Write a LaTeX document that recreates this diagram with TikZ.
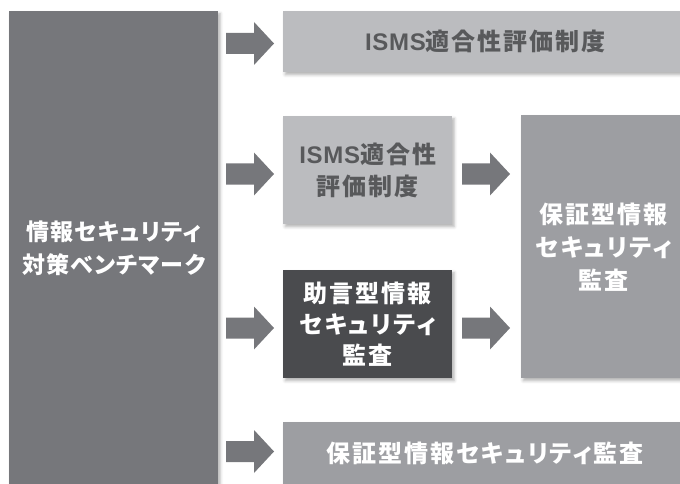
\documentclass[tikz,border=0pt]{standalone}
\usepackage{fontspec}
\newfontfamily\jp[LetterSpace=8, RawFeature=+palt]{Noto Sans CJK JP}
\newfontfamily\jpl[LetterSpace=5, RawFeature=+palt]{Noto Sans CJK JP}
\newfontfamily\lat[LetterSpace=3]{Liberation Sans}
\newcommand{\isms}{{\lat\bfseries ISMS}}
\usetikzlibrary{shadows.blur}
\definecolor{leftc}{HTML}{76777B}
\definecolor{lightc}{HTML}{BBBCBF}
\definecolor{midc}{HTML}{9D9EA2}
\definecolor{darkc}{HTML}{4A4B4E}
\definecolor{arrowc}{HTML}{76777B}
\definecolor{txtc}{HTML}{58595B}
\tikzset{
  box/.style={anchor=north west, inner sep=0pt, align=center,
    font=\jp\bfseries\fontsize{24}{32}\selectfont,
    blur shadow={shadow xshift=2pt, shadow yshift=-2.5pt, shadow blur radius=3pt, shadow opacity=30}},
  lightbox/.style={box, fill=lightc, text=txtc},
  midbox/.style={box, fill=midc, text=white},
  darkbox/.style={box, fill=darkc, text=white},
  leftbox/.style={box, fill=leftc, text=white, font=\jpl\bfseries\fontsize{23}{33}\selectfont},
  barrow/.pic={\fill[arrowc] (-24,-10.5) -- (4,-10.5) -- (4,-21.5) -- (24,0) -- (4,21.5) -- (4,10.5) -- (-24,10.5) -- cycle;}
}
\begin{document}
\begin{tikzpicture}[x=1pt,y=-1pt]
\useasboundingbox (0,0) rectangle (680,484);
\node[leftbox, minimum width=209pt, minimum height=474pt] (bench) at (9,11) {情報セキュリティ\\対策ベンチマーク};
\node[lightbox, minimum width=404pt, minimum height=61pt] (isms1) at (283,11) {\isms 適合性評価制度};
\node[lightbox, minimum width=169pt, minimum height=108pt] (isms2) at (283,116) {\isms 適合性\\評価制度};
\node[darkbox, minimum width=169pt, minimum height=108pt, font=\jp\bfseries\fontsize{24}{31}\selectfont] (adv) at (283,270) {助言型情報\\セキュリティ\\監査};
\node[midbox, minimum width=165pt, minimum height=263pt, font=\jp\bfseries\fontsize{24}{33}\selectfont] (assur) at (521,115) {保証型情報\\セキュリティ\\監査};
\node[midbox, minimum width=404pt, minimum height=62pt] (assur2) at (283,422) {保証型情報セキュリティ監査};
\pic at (250,43.5) {barrow};
\pic at (250,174) {barrow};
\pic at (250,328) {barrow};
\pic at (250,451.5) {barrow};
\pic at (486,174) {barrow};
\pic at (486,328) {barrow};
\end{tikzpicture}
\end{document}
